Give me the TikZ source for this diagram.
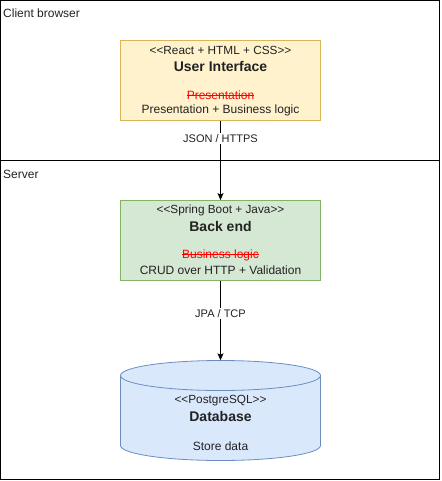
\documentclass[tikz,border=0pt]{standalone}
\usepackage{fontspec}
\setmainfont{Liberation Sans}
\usetikzlibrary{arrows.meta}
\usetikzlibrary{positioning}

\definecolor{uifill}{HTML}{FFF2CC}
\definecolor{uidraw}{HTML}{D6B656}
\definecolor{befill}{HTML}{D5E8D4}
\definecolor{bedraw}{HTML}{82B366}
\definecolor{dbfill}{HTML}{DAE8FC}
\definecolor{dbdraw}{HTML}{6C8EBF}
\definecolor{ink}{HTML}{222222}

% red text with a line through it
\newcommand{\struck}[1]{\textcolor{red}{\sbox0{#1}\rlap{\rule[0.3em]{\wd0}{0.07em}}#1}}

\begin{document}
\begin{tikzpicture}
[
	x = 1pt, y = -1pt,
	lane/.style = {rectangle, draw = black, line width = 1.2pt, minimum width = 439pt, inner sep = 0pt},
	lanename/.style = {anchor = west, inner sep = 0pt, font = \fontsize{12}{14}\selectfont, text = ink},
	comp/.style = {rectangle, line width = 0.8pt, minimum width = 200pt, minimum height = 80pt, inner sep = 0pt},
	tech/.style = {inner sep = 0pt, font = \fontsize{11.8}{13}\selectfont, text = ink},
	title/.style = {inner sep = 0pt, font = \fontsize{14}{16}\selectfont\bfseries, text = ink},
	note/.style = {inner sep = 0pt, font = \fontsize{12}{14}\selectfont, text = ink},
	proto/.style = {fill = white, inner sep = 1.5pt, font = \fontsize{11}{13}\selectfont, text = ink},
	link/.style = {draw = black, line width = 0.8pt, -{Stealth[length = 7pt, width = 6pt, inset = 1.5pt]}},
	dbshape/.style = {draw = dbdraw, fill = dbfill, line width = 0.8pt},
]

	% swimlanes
	\node (client) [lane, minimum height = 160pt] at (220.1, 80.6) {};
	\node (server) [lane, minimum height = 319pt] at (220.1, 320.1) {};
	\node (clientname) [lanename] at (3, 13) {Client browser};
	\node (servername) [lanename] at (3, 174) {Server};

	% front end
	\node (ui) [comp, draw = uidraw, fill = uifill] at (220.5, 80.5) {};
	\node (ui-tech) [tech] at (220.5, 50) {<{}<React + HTML + CSS>{}>};
	\node (ui-name) [title] at (220.5, 66) {User Interface};
	\node (ui-old) [note] at (220.5, 95.5) {\struck{Presentation}};
	\node (ui-new) [note] at (220.5, 110) {Presentation + Business logic};

	% back end
	\node (backend) [comp, draw = bedraw, fill = befill] at (220.5, 240.5) {};
	\node (be-tech) [tech] at (220.5, 210) {<{}<Spring Boot + Java>{}>};
	\node (be-name) [title] at (220.5, 226) {Back end};
	\node (be-old) [note] at (220.5, 255.5) {\struck{Business logic}};
	\node (be-new) [note] at (220.5, 270) {CRUD over HTTP + Validation};

	% database
	\node (db) [rectangle, minimum width = 200pt, minimum height = 100pt, inner sep = 0pt] at (220.5, 410.5) {};
	\filldraw [dbshape] (120.5, 375.5) -- (120.5, 445.5)
		arc [start angle = 180, end angle = 0, x radius = 100, y radius = 15]
		-- (320.5, 375.5)
		arc [start angle = 0, end angle = -180, x radius = 100, y radius = 15] -- cycle;
	\draw [dbshape, fill = none] (120.5, 375.5)
		arc [start angle = 180, end angle = 0, x radius = 100, y radius = 15];
	\node (db-tech) [tech] at (220.5, 401) {<{}<PostgreSQL>{}>};
	\node (db-name) [title] at (220.5, 416.5) {Database};
	\node (db-note) [note] at (220.5, 446) {Store data};

	% connectors
	\draw [link] (ui) -- node (json) [proto, pos = 0.225] {JSON / HTTPS} (backend);
	\draw [link] (backend) -- node (jpa) [proto, pos = 0.41] {JPA / TCP} (db);

	\useasboundingbox (0, 0) rectangle (441, 481);
\end{tikzpicture}
\end{document}
